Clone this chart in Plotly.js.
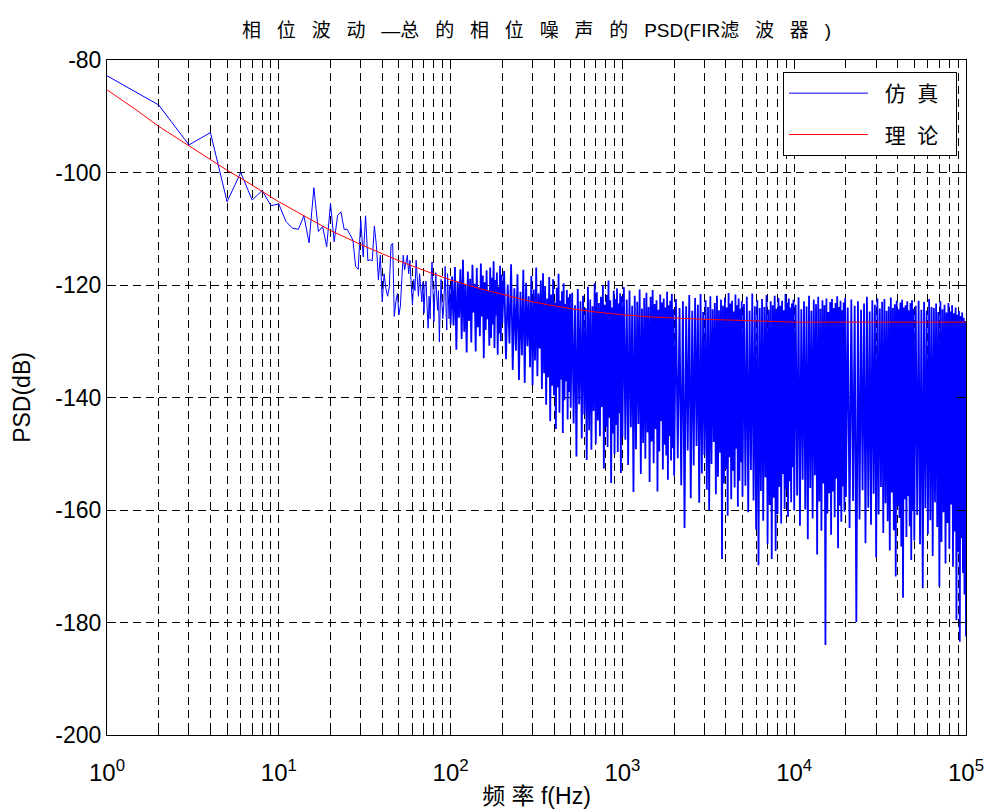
<!DOCTYPE html>
<html><head><meta charset="utf-8">
<script src="https://cdn.plot.ly/plotly-3.0.1.min.js"></script>
<style>html,body{margin:0;padding:0;background:#fff;}#chart{width:988px;height:809px;}</style>
</head><body><div id="chart"></div>
<script>
// ---- simulated PSD (仿真) ----
const simFreqA = [1,2,3,4,5,6,7,8,9,10,11,12,13,14,15,16,17,18,19,20,21,22,23,24,25,26,27,28,29,30,31,32,33,34,35,36,37,38,39,40,41,42,43,44,45,46,47,48,49,50,51,52,53,54,55,56,57,58,59,60,61,62,63,64,65,66,67,68,69,70,71,72,73,74,75,76,77,78,79,80,81,82,83,84,85,86,87,88,89,90,91,92,93,94,95,96,97,98,99,100];
const simPsdA = [-82.8,-88.0,-95.1,-92.9,-105.2,-100.0,-104.9,-103.2,-105.9,-105.6,
-108.7,-109.9,-110.1,-107.7,-112.5,-102.7,-110.5,-109.6,-113.2,-105.5,
-112.3,-107.6,-107.0,-110.1,-110.1,-111.0,-112.0,-116.7,-117.2,-108.4,
-115.0,-107.7,-115.7,-115.5,-115.7,-109.5,-113.0,-119.1,-114.7,-123.0,
-118.0,-120.6,-122.0,-120.3,-112.9,-112.6,-125.6,-123.0,-121.5,-125.3,
-123.8,-119.0,-114.7,-117.3,-116.0,-114.7,-118.0,-115.6,-120.0,-123.6,
-119.0,-121.0,-115.6,-119.0,-122.0,-118.0,-120.5,-123.0,-119.5,-125.0,
-120.0,-119.3,-124.0,-127.7,-122.0,-126.0,-119.0,-115.9,-121.0,-126.5,
-121.0,-117.8,-122.0,-124.5,-121.0,-130.1,-124.0,-119.0,-123.0,-126.0,
-124.5,-121.0,-116.7,-124.0,-128.0,-118.0,-123.4,-126.0,-120.0,-127.0];

const simFreqB = [102,104,106,108,110,112,114,116,118,120,122,124,126,128,130,132,134,136,138,140,142,144,146,148,150,152,154,156,158,160,162,164,166,168,170,172,174,176,178,180,182,184,186,188,190,192,194,196,198,200,
205,210,215,220,225,230,235,240,245,250,255,260,265,270,275,280,285,290,295,300,305,310,315,320,325,330,335,340,345,350,355,360,365,370,375,380,385,390,395,400,405,410,415,420,425,430,435,440,445,450,455,460,465,470,475,480,485,490,495,500,
510,520,530,540,550,560,570,580,590,600,610,620,630,640,650,660,670,680,690,700,710,720,730,740,750,760,770,780,790,800,810,820,830,840,850,860,870,880,890,900,910,920,930,940,950,960,970,980,990,1000];
const simPsdB = [-118.5,-127.2,-116.8,-131.5,-119.4,-125.8,-117.2,-129.6,-115.5,-128.3,
-120.1,-132.0,-117.6,-126.4,-118.9,-130.2,-116.4,-124.9,-119.8,-131.8,
-117.0,-127.5,-120.4,-129.1,-116.2,-125.6,-118.3,-133.0,-119.5,-128.0,
-117.4,-126.1,-121.0,-130.8,-116.9,-129.4,-118.7,-127.0,-115.8,-131.2,
-119.1,-125.4,-117.8,-132.4,-120.3,-128.6,-116.6,-130.0,-118.2,-126.8,
-117.5,-133.2,-119.9,-130.4,-116.3,-135.1,-120.6,-131.7,-118.1,-136.9,
-121.2,-132.5,-117.3,-137.4,-119.6,-130.9,-122.0,-134.6,-118.4,-137.8,
-120.8,-133.4,-116.9,-136.2,-121.5,-131.3,-119.2,-138.5,-117.9,-135.7,
-120.2,-141.3,-122.4,-136.4,-118.6,-144.2,-121.7,-137.9,-119.0,-139.6,
-123.1,-145.6,-120.5,-138.2,-118.0,-142.7,-122.8,-136.8,-121.1,-146.3,
-119.7,-140.5,-123.4,-137.1,-120.9,-143.9,-122.2,-139.0,-121.6,-141.8,
-121.4,-144.6,-123.6,-150.5,-120.7,-141.2,-122.9,-147.3,-121.9,-143.0,
-124.1,-151.1,-120.3,-145.8,-122.6,-149.3,-123.8,-142.4,-119.7,-148.2,
-121.3,-144.1,-123.2,-146.9,-122.1,-141.7,-120.0,-152.6,-123.5,-145.2,
-121.8,-148.8,-119.2,-143.6,-122.7,-155.2,-124.0,-146.4,-121.0,-150.1,
-122.5,-144.9,-120.6,-149.7,-123.3,-142.8,-121.5,-153.4,-122.0,-147.0];

const simFreqC = [1020,1040,1060,1080,1100,1120,1140,1160,1180,1200,1220,1240,1260,1280,1300,1320,1340,1360,1380,1400,1420,1440,1460,1480,1500,1520,1540,1560,1580,1600,1620,1640,1660,1680,1700,1720,1740,1760,1780,1800,1820,1840,1860,1880,1900,1920,1940,1960,1980,2000,
2050,2100,2150,2200,2250,2300,2350,2400,2450,2500,2550,2600,2650,2700,2750,2800,2850,2900,2950,3000,3050,3100,3150,3200,3250,3300,3350,3400,3450,3500,3550,3600,3650,3700,3750,3800,3850,3900,3950,4000,4050,4100,4150,4200,4250,4300,4350,4400,4450,4500,4550,4600,4650,4700,4750,4800,4850,4900,4950,5000,
5100,5200,5300,5400,5500,5600,5700,5800,5900,6000,6100,6200,6300,6400,6500,6600,6700,6800,6900,7000,7100,7200,7300,7400,7500,7600,7700,7800,7900,8000,8100,8200,8300,8400,8500,8600,8700,8800,8900,9000,9100,9200,9300,9400,9500,9600,9700,9800,9900,10000];
const simPsdC = [-120.4,-147.5,-122.6,-152.0,-121.0,-145.3,-123.7,-156.8,-121.9,-149.2,
-123.0,-144.7,-120.8,-153.6,-124.2,-148.1,-122.3,-150.9,-121.4,-146.2,
-123.9,-155.0,-122.1,-147.8,-120.9,-151.7,-123.4,-145.6,-122.7,-156.7,
-124.4,-149.6,-121.7,-144.2,-123.1,-152.8,-122.4,-148.4,-124.0,-150.3,
-121.2,-154.6,-123.6,-146.9,-122.8,-151.2,-121.6,-149.0,-124.3,-153.9,
-122.5,-150.8,-124.1,-155.6,-122.9,-163.2,-123.8,-149.4,-121.8,-157.9,
-124.6,-152.1,-122.3,-148.6,-123.5,-158.7,-121.6,-153.5,-124.8,-150.2,
-122.7,-156.4,-123.9,-160.0,-122.0,-151.8,-124.3,-147.9,-123.2,-157.2,
-121.9,-154.1,-124.5,-149.8,-122.6,-168.7,-123.7,-155.3,-122.2,-152.7,
-124.0,-161.0,-121.4,-150.6,-123.3,-158.1,-122.8,-153.0,-124.7,-156.0,
-121.7,-149.1,-123.6,-159.4,-122.4,-154.8,-124.2,-151.5,-122.9,-157.6,
-123.4,-155.7,-122.1,-160.4,-124.6,-152.9,-121.5,-158.3,-123.8,-163.5,
-122.7,-169.8,-124.1,-156.6,-122.5,-161.9,-123.9,-154.2,-121.8,-166.0,
-124.4,-159.1,-122.9,-168.7,-123.6,-157.8,-121.9,-167.3,-124.2,-160.7,
-122.3,-155.9,-123.7,-162.4,-122.8,-153.6,-124.5,-159.8,-121.6,-156.3,
-123.1,-161.2,-122.4,-154.9,-124.0,-158.6,-123.3,-152.4,-122.6,-160.1];

const simFreqD = [10200,10400,10600,10800,11000,11200,11400,11600,11800,12000,12200,12400,12600,12800,13000,13200,13400,13600,13800,14000,14200,14400,14600,14800,15000,15200,15400,15600,15800,16000,16200,16400,16600,16800,17000,17200,17400,17600,17800,18000,18200,18400,18600,18800,19000,19200,19400,19600,19800,20000,
20500,21000,21500,22000,22500,23000,23500,24000,24500,25000,25500,26000,26500,27000,27500,28000,28500,29000,29500,30000,30500,31000,31500,32000,32500,33000,33500,34000,34500,35000,35500,36000,36500,37000,37500,38000,38500,39000,39500,40000,40500,41000,41500,42000,42500,43000,43500,44000,44500,45000,45500,46000,46500,47000,47500,48000,48500,49000,49500,50000,
51000,52000,53000,54000,55000,56000,57000,58000,59000,60000,61000,62000,63000,64000,65000,66000,67000,68000,69000,70000,71000,72000,73000,74000,75000,76000,77000,78000,79000,80000,81000,82000,83000,84000,85000,86000,87000,88000,89000,90000,91000,92000,93000,94000,95000,96000,97000,98000,99000,100000];
const simPsdD = [-123.5,-157.4,-122.2,-162.8,-124.3,-154.6,-122.9,-159.9,-123.8,-165.2,
-121.9,-156.1,-124.6,-161.5,-122.6,-153.8,-123.4,-167.9,-122.1,-158.5,
-124.2,-163.7,-122.7,-155.3,-123.6,-184.0,-122.4,-160.6,-124.8,-157.0,
-123.0,-164.4,-122.5,-156.7,-124.1,-161.3,-123.2,-154.4,-122.0,-166.8,
-123.9,-159.2,-122.8,-162.1,-124.5,-155.8,-123.1,-160.3,-122.3,-157.7,
-124.0,-163.2,-122.6,-158.4,-123.7,-179.9,-122.9,-161.7,-124.4,-156.5,
-123.3,-165.9,-122.1,-159.6,-124.7,-162.6,-122.7,-157.1,-123.5,-168.4,
-122.4,-160.8,-124.2,-155.9,-123.0,-164.1,-122.5,-158.8,-124.6,-162.0,
-123.8,-167.2,-122.2,-156.9,-124.1,-163.6,-123.4,-171.8,-122.8,-159.3,
-124.3,-161.4,-123.1,-166.5,-122.6,-175.6,-124.0,-158.1,-123.6,-164.8,
-122.9,-157.5,-124.5,-162.9,-123.2,-168.9,-122.7,-160.2,-124.2,-165.4,
-123.7,-160.9,-122.8,-166.1,-124.4,-173.9,-123.0,-159.7,-124.6,-164.3,
-122.5,-161.8,-123.9,-168.2,-124.1,-158.6,-123.3,-163.0,-124.8,-173.6,
-122.9,-165.7,-124.3,-160.4,-123.5,-169.5,-124.9,-162.3,-123.2,-166.9,
-124.7,-159.0,-123.6,-170.1,-125.0,-163.8,-124.0,-179.6,-125.3,-167.4,
-124.6,-183.4,-125.5,-165.0,-124.9,-171.2,-125.8,-175.0,-126.4,-182.5];

// ---- theoretical PSD (理论) ----
const theoryFreq = [1,1.5,2,3,4,5,6,8,10,15,20,30,40,50,70,100,150,200,300,400,500,700,1000,1500,2000,3000,5000,7000,10000,20000,50000,100000];
const theoryPsd = [-85.3,-89.0,-91.8,-95.3,-97.8,-99.6,-101.0,-103.4,-105.2,-108.2,-110.3,-112.8,-114.5,-115.7,-117.4,-119.1,-120.7,-121.6,-123.0,-123.7,-124.2,-124.8,-125.3,-125.7,-125.9,-126.1,-126.3,-126.5,-126.6,-126.6,-126.6,-126.6];

// ---- axis ticks ----
const xTickVals = [1,10,100,1000,10000,100000];
const xTickText = ['10<sup>0</sup>','10<sup>1</sup>','10<sup>2</sup>','10<sup>3</sup>','10<sup>4</sup>','10<sup>5</sup>'];
const xMinorVals = [2,3,4,5,6,7,8,9,20,30,40,50,60,70,80,90,200,300,400,500,600,700,800,900,2000,3000,4000,5000,6000,7000,8000,9000,20000,30000,40000,50000,60000,70000,80000,90000];
const yTickVals = [-200,-180,-160,-140,-120,-100,-80];
const yTickText = ['-200','-180','-160','-140','-120','-100','-80'];

// dense part continues from the last low-frequency sample
const denseFreq = [simFreqA[simFreqA.length - 1]].concat(simFreqB, simFreqC, simFreqD);
const densePsd = [simPsdA[simPsdA.length - 1]].concat(simPsdB, simPsdC, simPsdD);

const FONT = '"Liberation Sans", Arial, "Noto Sans CJK SC", sans-serif';
const NB = '\u00a0';
const sp3 = NB + NB + NB;
const titleText = ['相','位','波','动','—总','的','相','位','噪','声','的','PSD(FIR滤','波','器',')'].join(sp3);
const gridDash = '8px,5px';

const data = [
  {x: simFreqA, y: simPsdA, type: 'scatter', mode: 'lines',
   name: NB + NB + '仿' + NB + NB + '真' + NB + NB,
   line: {color: '#0000ff', width: 1}, legendgroup: 'a'},
  {x: denseFreq, y: densePsd, type: 'scatter', mode: 'lines', showlegend: false,
   line: {color: '#0000ff', width: 1.8}, legendgroup: 'a'},
  {x: theoryFreq, y: theoryPsd, type: 'scatter', mode: 'lines',
   name: NB + NB + '理' + NB + NB + '论' + NB + NB,
   line: {color: '#ff0000', width: 1}, legendgroup: 'b'}
];

const layout = {
  width: 988, height: 809,
  margin: {l: 107, r: 22, t: 60, b: 74, pad: 0},
  paper_bgcolor: '#ffffff', plot_bgcolor: '#ffffff',
  font: {family: FONT, size: 23, color: '#000000'},
  title: {text: titleText, font: {family: FONT, size: 19, color: '#000'},
          x: 0.5, xref: 'paper', xanchor: 'center', y: 1 - 30/809, yref: 'container', yanchor: 'middle'},
  showlegend: true,
  legend: {x: 0.9895, xanchor: 'right', y: 0.9822, yanchor: 'top',
           bordercolor: '#000', borderwidth: 1, bgcolor: '#ffffff',
           font: {family: FONT, size: 21, color: '#000'}, itemwidth: 79, tracegroupgap: 11,
           traceorder: 'grouped'},
  xaxis: {
    type: 'log', range: [0, 5], autorange: false,
    tickmode: 'array', tickvals: xTickVals, ticktext: xTickText,
    ticks: 'inside', ticklen: 9, tickwidth: 1, tickcolor: '#000',
    showline: true, linecolor: '#000', linewidth: 1, mirror: 'ticks',
    showgrid: true, gridcolor: '#000', gridwidth: 1, griddash: gridDash,
    zeroline: false, automargin: false, ticklabelstandoff: 16,
    tickfont: {family: FONT, size: 24, color: '#000'},
    title: {text: '频 率 f(Hz)', font: {family: FONT, size: 23, color: '#000'}, standoff: 6},
    minor: {tickmode: 'array', tickvals: xMinorVals, ticks: 'inside', ticklen: 5, tickcolor: '#000', tickwidth: 1,
            showgrid: true, gridcolor: '#000', gridwidth: 1, griddash: gridDash}
  },
  yaxis: {
    range: [-200, -80], autorange: false,
    tickmode: 'array', tickvals: yTickVals, ticktext: yTickText,
    ticks: 'inside', ticklen: 9, tickwidth: 1, tickcolor: '#000',
    showline: true, linecolor: '#000', linewidth: 1, mirror: 'ticks',
    showgrid: true, gridcolor: '#000', gridwidth: 1, griddash: gridDash,
    zeroline: false, automargin: false,
    tickfont: {family: FONT, size: 23, color: '#000'},
    title: {text: 'PSD(dB)', font: {family: FONT, size: 23, color: '#000'}, standoff: 18}
  }
};

Plotly.newPlot('chart', data, layout, {staticPlot: true, displayModeBar: false});
</script>
</body></html>
